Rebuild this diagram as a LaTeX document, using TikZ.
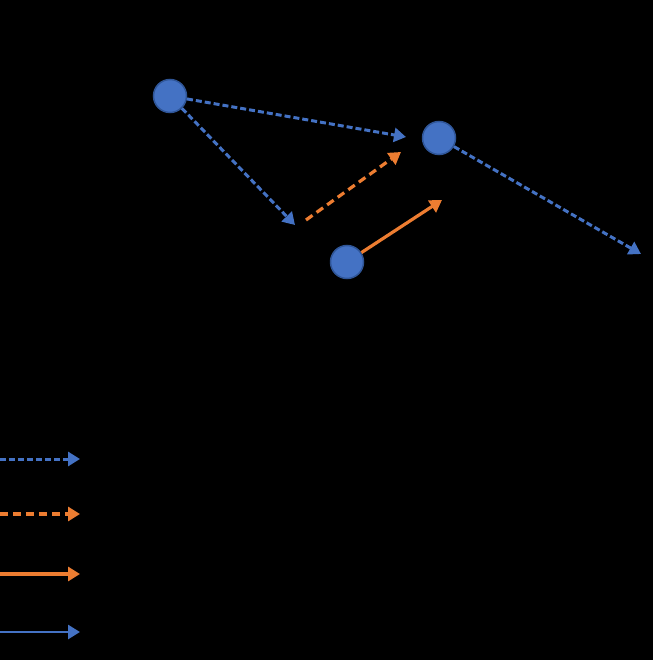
\documentclass[tikz,border=0pt]{standalone}
\usetikzlibrary{positioning,calc,arrows.meta}
\definecolor{Bleu}{HTML}{4472C4}
\definecolor{BleuBord}{HTML}{2F5597}
\definecolor{Orange}{HTML}{ED7D31}
\tikzset{
  noeud/.style={circle, fill=Bleu, draw=BleuBord, line width=1.5pt, minimum size=33pt, inner sep=0pt},
  lienb/.style={Bleu, line width=3pt, dash pattern=on 6pt off 3pt, -{Triangle[length=12pt,width=14pt]}},
  lienbp/.style={Bleu, line width=2.8pt, -{Triangle[length=12pt,width=14pt]}},
  lieno/.style={Orange, line width=3.2pt, dash pattern=on 8pt off 5pt, -{Triangle[length=12pt,width=14pt]}},
  lienop/.style={Orange, line width=3.2pt, -{Triangle[length=12pt,width=14pt]}}
}
\begin{document}
\begin{tikzpicture}[x=1pt,y=-1pt]
  \fill[black] (0,0) rectangle (653,660);
  \useasboundingbox (0,0) rectangle (653,660);
  % noeuds
  \node[noeud] (A) at (170,96) {};
  \node[noeud] (B) at (439,138) {};
  \node[noeud] (C) at (347,262) {};
  % extremites libres
  \coordinate (fAB) at (406,137);
  \coordinate (fAD) at (295,225);
  \coordinate (dO) at (306,220);
  \coordinate (fO) at (401,152);
  \coordinate (fC) at (442,200);
  \coordinate (fB) at (641,254);
  % liens
  \draw[lienb] (A) -- (fAB);
  \draw[lienb] (A) -- (fAD);
  \draw[lieno] (dO) -- (fO);
  \draw[lienop] (C) -- (fC);
  \draw[lienb] (B) -- (fB);
  % legende
  \foreach \sty/\y [count=\i] in {lienb/459, lieno/514, lienop/574, lienbp/632}{
    \coordinate (lg\i) at (0,\y);
    \coordinate (ld\i) at (80,\y);
    \draw[\sty] (lg\i) -- (ld\i);
  }
\end{tikzpicture}
\end{document}
